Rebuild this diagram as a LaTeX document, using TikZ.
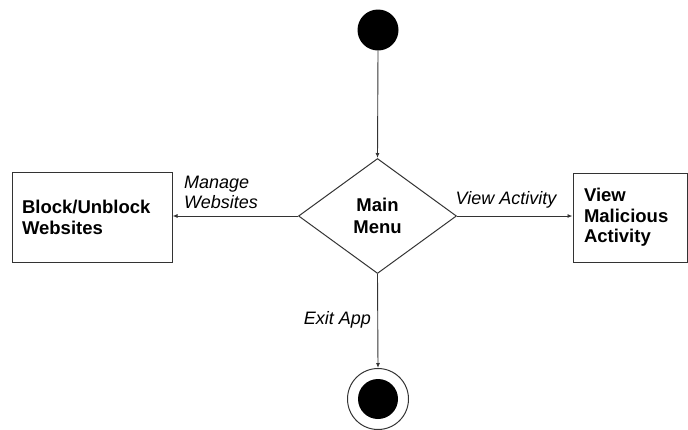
\documentclass[tikz,border=0pt]{standalone}
\usepackage{fontspec}
\setmainfont{Liberation Sans}
\usetikzlibrary{shapes.geometric,arrows.meta}
\definecolor{edge}{HTML}{333333}
\tikzset{
  boxnode/.style={draw=edge, line width=1pt, rectangle, align=left,
    font=\fontsize{18.5}{21}\selectfont\bfseries, inner ysep=0pt},
  decision/.style={draw=edge, line width=1pt, diamond, minimum width=158pt, minimum height=115pt,
    inner sep=0pt, align=center, font=\fontsize{18.5}{22}\selectfont\bfseries},
  flow/.style={draw=edge, line width=0.9pt, -{Latex[length=5pt,width=4pt]}},
  guard/.style={font=\fontsize{18}{20}\selectfont\itshape, inner sep=0pt, align=left},
}
\begin{document}
\begin{tikzpicture}[x=1pt, y=-1pt]
\useasboundingbox (0,0) rectangle (688,429);
% initial and final states
\node[circle, fill=black, minimum size=41pt, inner sep=0pt] (start) at (378,30) {};
\node[circle, draw=edge, line width=1pt, minimum size=61pt, inner sep=0pt] (stop) at (378,399) {};
\node[circle, fill=black, minimum size=40pt, inner sep=0pt] (stopdot) at (378,399) {};
% decision and actions
\node[decision] (menu) at (377.5,216) {Main\\Menu};
\node[boxnode, minimum width=160pt, minimum height=90pt, text width=140pt, inner xsep=10pt] (block) at (92,217) {Block/Unblock\\Websites};
\node[boxnode, font=\fontsize{18.5}{20.5}\selectfont\bfseries, minimum width=114pt, minimum height=89pt, text width=92pt, inner xsep=11pt] (view) at (630,217.5) {View\\Malicious\\Activity};
% transitions
\draw[flow] (start.south) -- (menu.north);
\draw[flow] (menu.west) -- (block.east |- menu.west);
\draw[flow] (menu.east) -- (view.west |- menu.east);
\draw[flow] (menu.south) -- (stop.north);
% guards
\node[guard, anchor=west] (gmanage) at (184,192) {Manage\\Websites};
\node[guard] (gview) at (506,200) {View Activity};
\node[guard, anchor=east] (gexit) at (371,320) {Exit App};
\end{tikzpicture}
\end{document}
